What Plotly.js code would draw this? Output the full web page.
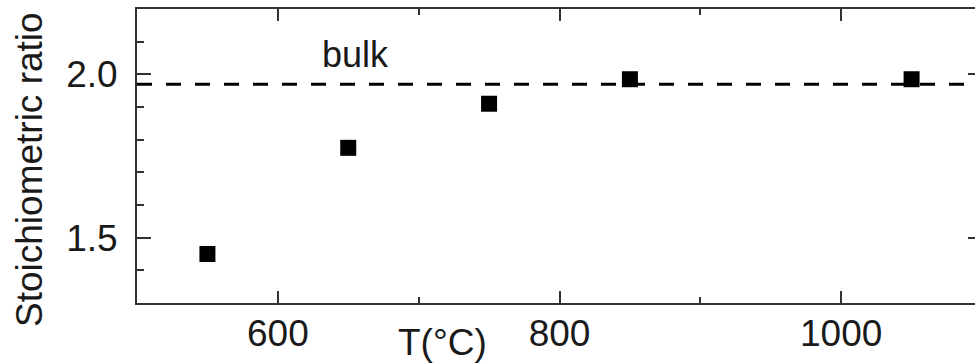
<!DOCTYPE html>
<html>
<head>
<meta charset="utf-8">
<script src="https://cdn.plot.ly/plotly-3.0.1.min.js"></script>
<style>
  html, body { margin: 0; padding: 0; overflow: hidden; background: #fff; }
  #chart { width: 990px; height: 364px; }
</style>
</head>
<body>
<div id="chart"></div>
<script>
// Annealing temperature (°C) and measured stoichiometric ratio
const temperature = [550, 650, 750, 850, 1050];
const ratio = [1.45, 1.775, 1.91, 1.985, 1.985];

// Bulk reference value, drawn as a dashed line across the whole range
const bulkRange = [500, 1100];
const bulkRatio = 1.97;

const xTickVals = [600, 800, 1000];
const yTickVals = [1.5, 2.0];
const yTickText = ['1.5', '2.0'];

const ink = '#1a1a1a';
const fontFamily = '"Liberation Sans", Arial, sans-serif';

const traces = [
  {
    x: bulkRange,
    y: bulkRange.map(() => bulkRatio),
    mode: 'lines',
    line: { color: '#000', width: 3, dash: '15px,14px' },
    hoverinfo: 'skip',
    showlegend: false
  },
  {
    x: temperature,
    y: ratio,
    mode: 'markers',
    marker: { symbol: 'square', size: 16, color: '#000' },
    showlegend: false
  }
];

const axisCommon = {
  showgrid: false,
  zeroline: false,
  showline: true,
  linecolor: '#333',
  linewidth: 2,
  mirror: 'allticks',
  ticks: 'inside',
  tickcolor: '#333',
  tickwidth: 2,
  ticklen: 12,
  tickfont: { family: fontFamily, size: 37, color: ink }
};

const layout = {
  width: 990,
  height: 364,
  margin: { l: 137, r: 8, t: 9, b: 61 },
  paper_bgcolor: '#fff',
  plot_bgcolor: '#fff',
  font: { family: fontFamily, color: ink },
  xaxis: Object.assign({}, axisCommon, {
    range: [500, 1100],
    tickvals: xTickVals,
    ticktext: xTickVals.map(String),
    ticklabelstandoff: -3,
    minor: { tickvals: [700, 900], ticks: 'inside', ticklen: 6, tickcolor: '#333', tickwidth: 2 }
  }),
  yaxis: Object.assign({}, axisCommon, {
    range: [1.3, 2.2],
    tickvals: yTickVals,
    ticktext: yTickText,
    ticklen: 14,
    ticklabelstandoff: 10,
    minor: { tickvals: [1.4, 1.6, 1.7, 1.8, 1.9, 2.1], ticks: 'inside', ticklen: 7, tickcolor: '#333', tickwidth: 2 }
  }),
  annotations: [
    {
      text: 'bulk',
      x: 655, y: 2.06, xref: 'x', yref: 'y',
      xanchor: 'center', yanchor: 'middle',
      showarrow: false,
      font: { family: fontFamily, size: 36, color: ink }
    },
    {
      text: 'T(°C)',
      x: 442, y: 342,
      xanchor: 'center', yanchor: 'middle',
      showarrow: false,
      font: { family: fontFamily, size: 37, color: ink }
    },
    {
      text: 'Stoichiometric ratio',
      textangle: -90,
      x: 29, y: 170,
      xanchor: 'center', yanchor: 'middle',
      showarrow: false,
      font: { family: fontFamily, size: 37, color: ink }
    }
  ]
};

// Place the two free-standing labels by pixel position, expressed as paper fractions
const plotW = layout.width - layout.margin.l - layout.margin.r;
const plotH = layout.height - layout.margin.t - layout.margin.b;
[layout.annotations[1], layout.annotations[2]].forEach(a => {
  a.xref = 'paper';
  a.yref = 'paper';
  a.x = (a.x - layout.margin.l) / plotW;
  a.y = (layout.height - layout.margin.b - a.y) / plotH;
});

Plotly.newPlot('chart', traces, layout, { displayModeBar: false, staticPlot: true });
</script>
</body>
</html>
